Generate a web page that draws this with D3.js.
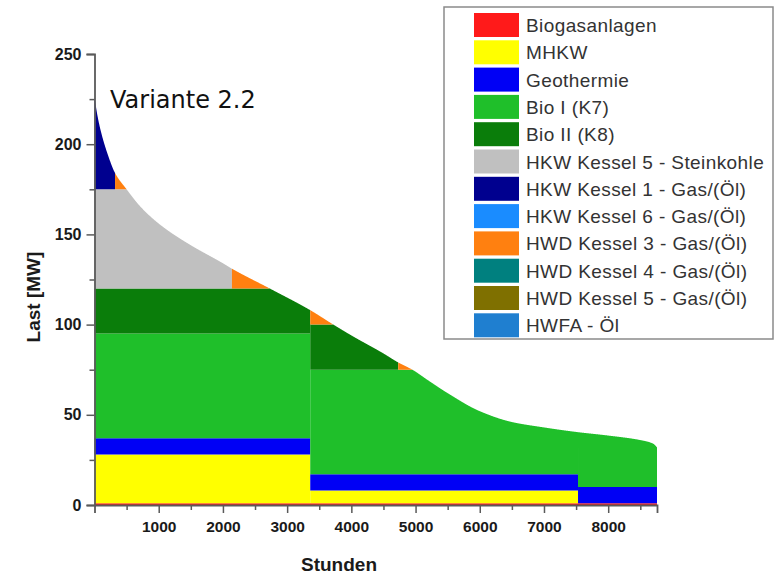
<!DOCTYPE html>
<html>
<head>
<meta charset="utf-8">
<script src="https://cdn.jsdelivr.net/npm/d3@7"></script>
<style>
  html, body { margin: 0; padding: 0; background: #fff; }
  svg { display: block; }
  .tick text { font-family: "Liberation Sans", Arial, sans-serif; fill: #1a1a1a; font-weight: bold; }
</style>
</head>
<body>
<svg id="chart" width="783" height="574"></svg>
<script>
// Erzeugungseinheiten und Farben (Legendenreihenfolge)
const units = [
  "Biogasanlagen", "MHKW", "Geothermie", "Bio I (K7)", "Bio II (K8)",
  "HKW Kessel 5 - Steinkohle", "HKW Kessel 1 - Gas/(Öl)", "HKW Kessel 6 - Gas/(Öl)",
  "HWD Kessel 3 - Gas/(Öl)", "HWD Kessel 4 - Gas/(Öl)", "HWD Kessel 5 - Gas/(Öl)", "HWFA - Öl"
];
const unitColors = [
  "#ff1a1a", "#ffff00", "#0000f5", "#1fbf2a", "#0a7d0a",
  "#c0c0c0", "#00008f", "#1a8cff", "#ff8010", "#00807f", "#7f7000", "#1f7fd0"
];

// Jahresdauerlinie der Last
const loadHours = [0, 40, 100, 200, 320, 500, 700, 900, 1130, 1500, 2000, 2140, 2730, 3360,
  3720, 4000, 4500, 4730, 4950, 5200, 5500, 6000, 6500, 7000, 7500, 8000, 8500, 8700, 8760];
const loadMW = [226, 217, 207, 195, 184, 175, 166, 159, 152.5, 144, 134, 131, 120, 108,
  100, 94, 84, 79, 75, 69, 62, 52, 46, 43, 40.5, 38.5, 36, 34, 32];

// Einsatzblöcke: [Einheit, von h, bis h, untere MW, obere MW] (oben begrenzt durch die Last)
const blocks = [
  [0, 0, 8760, 0, 1],
  [1, 0, 3360, 1, 28], [1, 3360, 7530, 1, 8],
  [2, 0, 3360, 28, 37], [2, 3360, 7530, 8, 17], [2, 7530, 8760, 1, 10],
  [3, 0, 3360, 37, 95], [3, 3360, 7530, 17, 75], [3, 7530, 8760, 10, 300],
  [4, 0, 3360, 95, 120], [4, 3360, 4730, 75, 100],
  [5, 0, 2140, 120, 175],
  [6, 0, 320, 175, 300],
  [8, 320, 2140, 175, 300], [8, 2140, 3360, 120, 300],
  [8, 3360, 4730, 100, 300], [8, 4730, 7530, 75, 300]
];

const xTicks = [1000, 2000, 3000, 4000, 5000, 6000, 7000, 8000];
const xMinor = [500, 1500, 2500, 3500, 4500, 5500, 6500, 7500, 8500];
const yTicks = [0, 50, 100, 150, 200, 250];
const yMinor = [25, 75, 125, 175, 225];

const svg = d3.select("#chart");
const x = d3.scaleLinear().domain([0, 8760]).range([94.5, 657]);
const y = d3.scaleLinear().domain([0, 250]).range([505, 54]);

// Monotone kubische Interpolation (Fritsch-Carlson) der Dauerlinie
function monotone(xs, ys) {
  const n = xs.length, d = [], m = new Array(n);
  for (let i = 0; i < n - 1; i++) d.push((ys[i + 1] - ys[i]) / (xs[i + 1] - xs[i]));
  m[0] = d[0]; m[n - 1] = d[n - 2];
  for (let i = 1; i < n - 1; i++) {
    if (d[i - 1] * d[i] <= 0) m[i] = 0;
    else {
      const w1 = 2 * (xs[i + 1] - xs[i]) + (xs[i] - xs[i - 1]);
      const w2 = (xs[i + 1] - xs[i]) + 2 * (xs[i] - xs[i - 1]);
      m[i] = (w1 + w2) / (w1 / d[i - 1] + w2 / d[i]);
    }
  }
  return t => {
    let i = d3.bisectRight(xs, t) - 1;
    i = Math.max(0, Math.min(n - 2, i));
    const h = xs[i + 1] - xs[i], s = (t - xs[i]) / h;
    const h00 = 2 * s ** 3 - 3 * s ** 2 + 1, h10 = s ** 3 - 2 * s ** 2 + s;
    const h01 = -2 * s ** 3 + 3 * s ** 2, h11 = s ** 3 - s ** 2;
    return h00 * ys[i] + h10 * h * m[i] + h01 * ys[i + 1] + h11 * h * m[i + 1];
  };
}
const load = monotone(loadHours, loadMW);

const area = d3.area()
  .x(d => x(d.t))
  .y0(d => y(d.lo))
  .y1(d => y(d.hi));

// Flächen nur dort zeichnen, wo die Last über der Blockunterkante liegt
const gAreas = svg.append("g");
blocks.forEach(([u, t0, t1, lo, hi]) => {
  const ts = d3.range(t0, t1, 4).concat([t1]);
  const pts = ts.map(t => ({ t, lo, hi: Math.max(lo, Math.min(hi, load(t))) }))
    .filter((p, i, arr) => p.hi > p.lo || (arr[i - 1] && arr[i - 1].hi > arr[i - 1].lo));
  if (pts.length < 2) return;
  gAreas.append("path")
    .attr("d", area(pts))
    .attr("fill", unitColors[u]);
});

// Achsen
function styleAxis(g) {
  g.selectAll(".domain").attr("stroke", "#5a5a5a").attr("stroke-width", 1.8);
  g.selectAll(".tick line").attr("stroke", "#5a5a5a").attr("stroke-width", 1.5);
}

const gx = svg.append("g").attr("transform", `translate(0,${y(0)})`)
  .call(d3.axisBottom(x).tickValues(xTicks).tickSize(8).tickPadding(8).tickFormat(d3.format("d")));
gx.selectAll(".tick text").attr("font-size", 15.5);
styleAxis(gx);
const gxm = svg.append("g").attr("transform", `translate(0,${y(0)})`)
  .call(d3.axisBottom(x).tickValues(xMinor).tickSize(5).tickFormat(""));
gxm.select(".domain").remove();
styleAxis(gxm);

const gy = svg.append("g").attr("transform", `translate(${x(0)},0)`)
  .call(d3.axisLeft(y).tickValues(yTicks).tickSize(8).tickPadding(5).tickFormat(d3.format("d")));
gy.selectAll(".tick text").attr("font-size", 16);
styleAxis(gy);
const gym = svg.append("g").attr("transform", `translate(${x(0)},0)`)
  .call(d3.axisLeft(y).tickValues(yMinor).tickSize(5).tickFormat(""));
gym.select(".domain").remove();
styleAxis(gym);

// Achsentitel
svg.append("text")
  .attr("x", 339).attr("y", 571)
  .attr("text-anchor", "middle")
  .attr("font-family", "Liberation Sans, Arial, sans-serif")
  .attr("font-weight", "bold")
  .attr("font-size", 19).attr("fill", "#1a1a1a")
  .text("Stunden");
svg.append("text")
  .attr("transform", "translate(40,297) rotate(-90)")
  .attr("text-anchor", "middle")
  .attr("font-family", "Liberation Sans, Arial, sans-serif")
  .attr("font-weight", "bold")
  .attr("font-size", 19).attr("fill", "#1a1a1a")
  .text("Last [MW]");

// Variantenbezeichnung
svg.append("text")
  .attr("x", 110).attr("y", 108)
  .attr("font-family", "DejaVu Sans, sans-serif")
  .attr("font-size", 24).attr("fill", "#111")
  .text("Variante 2.2");

// Legende
const leg = svg.append("g");
leg.append("rect")
  .attr("x", 444).attr("y", 7).attr("width", 329).attr("height", 332)
  .attr("fill", "#fff").attr("stroke", "#8a8a8a").attr("stroke-width", 1.5);
units.forEach((name, i) => {
  const cy = 25 + i * 27.3;
  leg.append("rect")
    .attr("x", 474).attr("y", cy - 12).attr("width", 45).attr("height", 24)
    .attr("fill", unitColors[i]);
  leg.append("text")
    .attr("x", 526).attr("y", cy + 7)
    .attr("font-family", "Liberation Sans, Arial, sans-serif")
    .attr("font-size", 19).attr("letter-spacing", 0.4).attr("fill", "#333")
    .text(name);
});
</script>
</body>
</html>
